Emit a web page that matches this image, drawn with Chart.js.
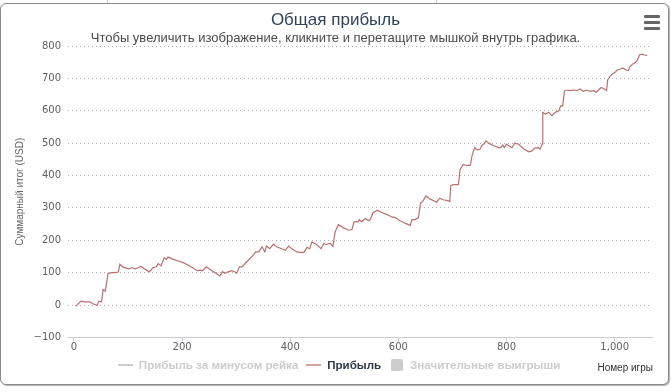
<!DOCTYPE html>
<html><head><meta charset="utf-8">
<script src="https://cdn.jsdelivr.net/npm/chart.js@4.4.1/dist/chart.umd.min.js"></script>
<style>
html,body{margin:0;padding:0;background:#fff;}
#wrap{position:relative;width:671px;height:392px;overflow:hidden;}
#tab{position:absolute;left:107px;top:-6px;width:328px;height:8px;border:1px solid #c8c8c8;background:#fff;}
#card{position:absolute;left:0;top:3px;width:667px;height:380px;border:1px solid #8a8a8a;border-radius:6px;background:#fff;box-shadow:1px 1px 1px rgba(0,0,0,0.3);}
#c{position:absolute;left:0;top:0;}
#menu{position:absolute;left:644px;top:15px;width:16px;}
#menu div{height:3px;background:#666;margin-bottom:3px;border-radius:1px;}
</style></head><body>
<div id="wrap"><div id="tab"></div><div id="card"></div><canvas id="c" width="671" height="392"></canvas><div id="menu"><div></div><div></div><div></div></div></div>
<script>
const chartTitle = 'Общая прибыль';
const chartSubtitle = 'Чтобы увеличить изображение, кликните и перетащите мышкой внутрь графика.';
const yTitle = 'Суммарный итог (USD)';
const xTitle = 'Номер игры';
const seriesNames = ['Прибыль за минусом рейка', 'Прибыль', 'Значительные выигрыши'];
const seriesHidden = [true, false, true];

const games = [3,7,13,20,29,35,43,46,51,54,58,63,69,76,82,85,91,101,107,113,119,124,129,135,140,146,152,156,161,167,171,174,184,193,202,215,228,234,237,245,252,261,270,275,279,286,292,297,301,306,311,317,323,329,336,342,348,353,356,362,369,375,384,391,397,403,412,422,426,431,436,440,448,457,462,466,474,479,483,489,498,508,514,518,525,528,532,539,545,548,553,561,570,578,588,594,603,613,622,625,631,637,641,645,651,659,668,671,676,683,689,695,697,702,711,714,720,726,733,736,741,745,751,754,758,762,767,776,786,789,793,796,800,804,810,815,822,831,841,847,852,859,862,866,867,872,878,884,890,897,900,904,907,912,917,924,930,936,942,948,955,961,966,970,975,981,985,987,992,997,1001,1005,1011,1015,1021,1025,1028,1033,1038,1041,1046,1051,1054,1060];
const profit = [-4,2,12,10,10,4,-1,12,10,48,43,97,100,100,102,126,117,112,115,112,115,120,113,107,103,115,118,128,121,146,141,148,141,136,131,120,106,108,105,118,110,100,90,103,98,103,106,103,98,118,118,129,139,149,164,164,180,164,182,174,188,180,174,169,182,174,164,162,164,178,174,195,188,174,190,187,190,181,226,248,239,231,233,257,257,264,257,267,260,264,285,293,285,280,272,270,260,252,246,264,264,270,315,320,337,327,320,317,330,325,323,320,369,372,372,419,434,431,431,460,486,479,481,492,497,507,500,492,486,486,494,486,497,492,486,500,497,483,473,476,485,486,481,497,595,590,595,585,595,600,615,615,660,664,662,664,662,667,660,664,660,662,657,664,672,667,662,695,708,715,719,726,729,732,726,724,736,744,749,753,773,775,773,770];

const xTicks = [0, 200, 400, 600, 800, 1000];
const yTicks = [-100, 0, 100, 200, 300, 400, 500, 600, 700, 800];

const lineColor = '#bb6f70';
function symLine(color){const c=document.createElement('canvas');c.width=15;c.height=2;const g=c.getContext('2d');g.fillStyle=color;g.fillRect(0,0,15,2);return c;}
function symSquare(color){const c=document.createElement('canvas');c.width=12;c.height=12;const g=c.getContext('2d');g.fillStyle=color;g.beginPath();g.roundRect(0,0,12,12,2);g.fill();return c;}

const fmt = v => v < 0 ? '\u2212' + Math.abs(v) : v.toLocaleString('en-US');

const fixPlugin = {
  id: 'fix',
  afterLayout(chart){
    const lg = chart.legend, ca = chart.chartArea;
    if (!lg || !lg.lineWidths) return;
    const P = lg.options.labels.padding;
    const fs = lg.options.labels.font.size;
    const dy = (ca.bottom + 28 - P - fs/2) - lg.top;
    lg.top += dy; lg.bottom += dy;
    const curX = (lg.left + P + lg.right - lg.lineWidths[0]) / 2;
    const dx = (ca.left + 50) - curX;
    lg.left += dx; lg.right += dx;
  },
  afterDraw(chart){
    const ctx = chart.ctx, ca = chart.chartArea;
    ctx.save();
    ctx.font = '10px "Liberation Sans", Arial, sans-serif';
    ctx.fillStyle = '#333';
    ctx.textAlign = 'right';
    ctx.textBaseline = 'middle';
    ctx.fillText(xTitle, ca.right + 1, ca.bottom + 31);
    ctx.restore();
  }
};

new Chart(document.getElementById('c'), {
  type: 'line',
  data: {
    datasets: [
      { label: seriesNames[0], data: [], hidden: seriesHidden[0], borderColor: '#cccccc', pointRadius: 0 },
      { label: seriesNames[1], data: games.map((g,i)=>({x:g, y:profit[i]})), hidden: seriesHidden[1],
        borderColor: lineColor, borderWidth: 1.2, pointRadius: 0, tension: 0, fill: false },
      { label: seriesNames[2], data: [], hidden: seriesHidden[2], borderColor: '#cccccc', pointRadius: 0 }
    ]
  },
  options: {
    responsive: false,
    animation: false,
    devicePixelRatio: 1,
    locale: 'en-US',
    layout: { padding: { top: 0, left: 9, right: 9, bottom: 9 } },
    plugins: {
      title: { display: true, text: chartTitle, color: '#2f4358',
        font: { family: '"Liberation Sans", Arial, sans-serif', size: 17, weight: 'normal' },
        padding: { top: 10, bottom: 0 } },
      subtitle: { display: true, text: chartSubtitle, color: '#4a4a4a',
        font: { family: '"Liberation Sans", Arial, sans-serif', size: 13, weight: 'normal' },
        padding: { top: 0, bottom: 0 } },
      tooltip: { enabled: false },
      legend: {
        position: 'bottom',
        labels: {
          usePointStyle: true, pointStyleWidth: 15, padding: 8,
          font: { family: '"Liberation Sans", Arial, sans-serif', size: 11.6, weight: 'bold' },
          generateLabels(chart){
            return chart.data.datasets.map((ds, i) => {
              const hidden = !chart.isDatasetVisible(i);
              const col = hidden ? '#cccccc' : '#d3a3a4';
              return {
                text: ds.label,
                fontColor: hidden ? '#cccccc' : '#2b3a4a',
                pointStyle: i === 2 ? symSquare(col) : symLine(col),
                fillStyle: col, strokeStyle: col, lineWidth: 2,
                hidden: false, datasetIndex: i
              };
            });
          }
        }
      }
    },
    scales: {
      x: {
        type: 'linear', min: -11, max: 1069,
        afterFit(s){ s.paddingRight = 19; },
        afterBuildTicks(s){ s.ticks = xTicks.map(v => ({value: v})); },
        ticks: { callback: fmt, color: '#606060', padding: 0, maxRotation: 0, autoSkip: false,
          font: { family: '"DejaVu Sans", Verdana, sans-serif', size: 10 } },
        grid: { drawOnChartArea: false, drawTicks: true, tickLength: 4, color: '#c8ccd4' },
        border: { display: true, color: '#c8ccd4', width: 1 }
      },
      y: {
        type: 'linear', min: -100, max: 800,
        afterFit(s){ s.width = 59; },
        afterBuildTicks(s){ s.ticks = yTicks.map(v => ({value: v})); },
        ticks: { callback: fmt, color: '#606060', padding: 7,
          font: { family: '"DejaVu Sans", Verdana, sans-serif', size: 10 } },
        grid: { drawTicks: false, color: '#b0b0b0', lineWidth: 1 },
        border: { display: false, dash: [1, 3] },
        title: { display: true, text: yTitle, color: '#666',
          font: { family: '"Liberation Sans", Arial, sans-serif', size: 10 },
          padding: { top: 5.5, bottom: 0 } }
      }
    }
  },
  plugins: [fixPlugin]
});
</script>
</body></html>
